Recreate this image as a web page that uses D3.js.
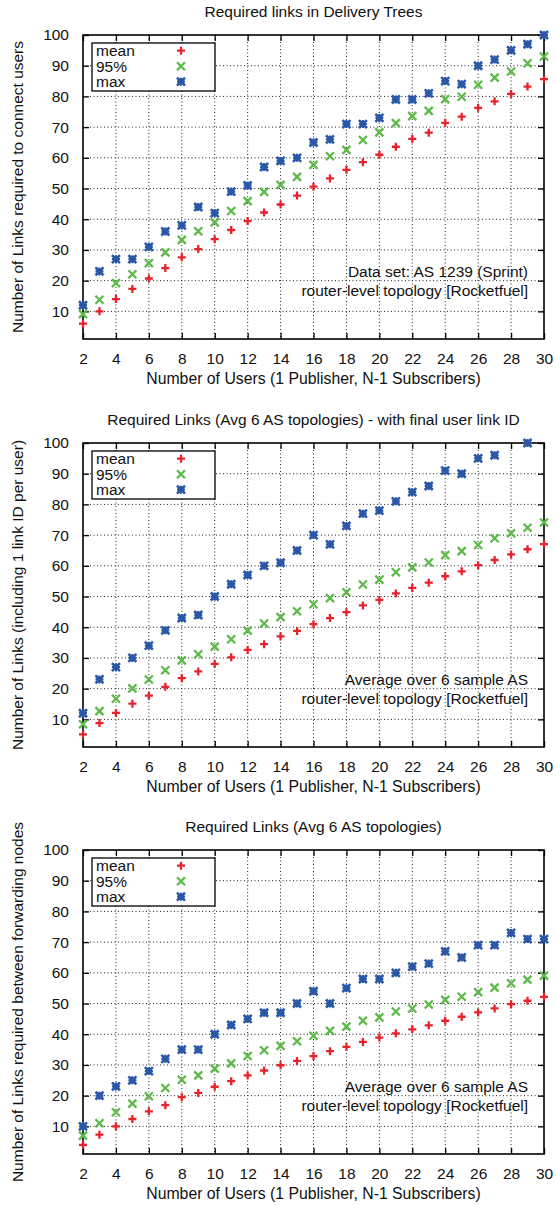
<!DOCTYPE html>
<html>
<head>
<meta charset="utf-8">
<script src="https://cdn.jsdelivr.net/npm/d3@7"></script>
<style>
  body { margin: 0; background: #fff; }
  svg text { font-family: "Liberation Sans", Arial, Helvetica, sans-serif; fill: #111; }
</style>
</head>
<body>
<div id="chart"></div>
<script>
const svgWidth = 556;
const svgHeight = 1205;

// number of users on the x axis
const users = d3.range(2, 31);

const yTicks = [10, 20, 30, 40, 50, 60, 70, 80, 90, 100];
const xTicks = [2, 4, 6, 8, 10, 12, 14, 16, 18, 20, 22, 24, 26, 28, 30];

const seriesNames = ["mean", "95%", "max"];

// panel 1: Delivery Trees, AS 1239
const treeMean = [6, 10, 14, 17.3, 20.7, 24.1, 27.6, 30.3, 33.5, 36.5, 39.4, 42.2, 44.8, 47.7, 50.6,
  53.3, 56.1, 58.6, 61, 63.6, 66.2, 68.2, 71.4, 73.4, 76.3, 78.4, 80.8, 83.2, 85.6];
const tree95 = [9.1, 13.8, 19.2, 22.1, 25.7, 29.2, 33.3, 36.1, 39, 42.7, 45.9, 48.9, 51.2, 53.8, 57.7,
  60.5, 62.6, 65.8, 68.3, 71.3, 73.6, 75.3, 79.1, 79.9, 83.8, 86.1, 88.1, 90.8, 93];
const treeMax = [12, 23, 27, 27, 31, 36, 38, 44, 42, 49, 51, 57, 59, 60, 65,
  66, 71, 71, 73, 79, 79, 81, 85, 84, 90, 92, 95, 97, 100];

// panel 2: with final user link ID
const finalMean = [5.1, 8.8, 12.1, 15.1, 17.7, 20.6, 23.4, 25.6, 28.1, 30.2, 32.6, 34.5, 37, 38.8, 41,
  43, 44.9, 47.1, 48.9, 51, 52.8, 54.5, 56.6, 58.2, 60.2, 61.9, 63.7, 65.4, 67.1];
const final95 = [8.4, 12.7, 16.7, 20.1, 23, 26, 29.2, 31.2, 33.7, 36.1, 38.9, 41.2, 43.3, 45.2, 47.5,
  49.5, 51.4, 53.9, 55.5, 57.9, 59.5, 61.1, 63.5, 64.8, 66.8, 69, 70.6, 72.4, 74.1];
const finalMax = [12, 23, 27, 30, 34, 39, 43, 44, 50, 54, 57, 60, 61, 65, 70,
  67, 73, 77, 78, 81, 84, 86, 91, 90, 95, 96, null, 100, null];

// panel 3: between forwarding nodes
const fwdMean = [4, 7.3, 10, 12.4, 14.9, 16.9, 19.5, 20.9, 22.9, 24.7, 26.6, 28.2, 29.9, 31.3, 32.9,
  34.5, 35.9, 37.5, 38.9, 40.3, 41.6, 42.9, 44.4, 45.7, 47.1, 48.4, 49.8, 50.9, 52.2];
const fwd95 = [7, 11, 14.6, 17.4, 19.8, 22.5, 25.2, 26.6, 28.8, 30.5, 32.9, 34.8, 36.2, 37.7, 39.5,
  41.1, 42.5, 44.4, 45.5, 47.4, 48.4, 49.7, 51.2, 52.2, 53.7, 55.2, 56.6, 57.8, 59.1];
const fwdMax = [10, 20, 23, 25, 28, 32, 35, 35, 40, 43, 45, 47, 47, 50, 54,
  50, 55, 58, 58, 60, 62, 63, 67, 65, 69, 69, 73, 71, 71];

const titles = [
  "Required links in Delivery Trees",
  "Required Links (Avg 6 AS topologies) - with final user link ID",
  "Required Links (Avg 6 AS topologies)"
];
const yLabels = [
  "Number of Links required to connect users",
  "Number of Links (including 1 link ID per user)",
  "Number of Links required between forwarding nodes"
];
const notes = [
  ["Data set: AS 1239 (Sprint)", "router-level topology [Rocketfuel]"],
  ["Average over 6 sample AS", "router-level topology [Rocketfuel]"],
  ["Average over 6 sample AS", "router-level topology [Rocketfuel]"]
];
const xLabel = "Number of Users (1 Publisher, N-1 Subscribers)";

const panelData = [
  [treeMean, tree95, treeMax],
  [finalMean, final95, finalMax],
  [fwdMean, fwd95, fwdMax]
];

const colors = ["#e8222b", "#5db94a", "#2b57a7"];

// plot areas
const plotLeft = 83;
const plotRight = 544;
const plotTops = [35, 443, 850];
const plotHeight = 304;

const svg = d3.select("#chart")
  .append("svg")
  .attr("width", svgWidth)
  .attr("height", svgHeight);

function drawMarker(g, type, color) {
  const s = 4;
  if (type === 0 || type === 2) {
    g.append("path").attr("d", `M${-s},0H${s}M0,${-s}V${s}`)
      .attr("stroke", color).attr("stroke-width", 2.3);
  }
  if (type === 1 || type === 2) {
    g.append("path").attr("d", `M${-s},${-s}L${s},${s}M${-s},${s}L${s},${-s}`)
      .attr("stroke", color).attr("stroke-width", type === 2 ? 2.6 : 2.3);
  }
  if (type === 2) {
    g.append("rect").attr("x", -2.8).attr("y", -2.8).attr("width", 5.6).attr("height", 5.6)
      .attr("fill", color);
  }
}

function drawPanel(i) {
  const top = plotTops[i];
  const bottom = top + plotHeight;
  const x = d3.scaleLinear().domain([2, 30]).range([plotLeft, plotRight]);
  const y = d3.scaleLinear().domain([1, 100]).range([bottom, top]);

  const g = svg.append("g");

  // grid
  g.append("g").selectAll("line")
    .data(xTicks.slice(1, -1))
    .join("line")
    .attr("x1", d => x(d)).attr("x2", d => x(d))
    .attr("y1", top).attr("y2", bottom)
    .attr("stroke", "#222").attr("stroke-width", 1).attr("stroke-dasharray", "1,2.5");
  g.append("g").selectAll("line")
    .data(yTicks.slice(0, -1))
    .join("line")
    .attr("x1", plotLeft).attr("x2", plotRight)
    .attr("y1", d => y(d)).attr("y2", d => y(d))
    .attr("stroke", "#222").attr("stroke-width", 1).attr("stroke-dasharray", "1,2.5");

  // axes with inward ticks on all four sides
  g.append("g").attr("transform", `translate(0,${bottom})`)
    .call(d3.axisBottom(x).tickValues(xTicks).tickSizeInner(-6).tickSizeOuter(0).tickPadding(14))
    .call(a => a.select(".domain").remove());
  g.append("g").attr("transform", `translate(0,${top})`)
    .call(d3.axisTop(x).tickValues(xTicks).tickSizeInner(-6).tickSizeOuter(0).tickFormat(""))
    .call(a => a.select(".domain").remove());
  g.append("g").attr("transform", `translate(${plotLeft},0)`)
    .call(d3.axisLeft(y).tickValues(yTicks).tickSizeInner(-6).tickSizeOuter(0).tickPadding(14))
    .call(a => a.select(".domain").remove());
  g.append("g").attr("transform", `translate(${plotRight},0)`)
    .call(d3.axisRight(y).tickValues(yTicks).tickSizeInner(-6).tickSizeOuter(0).tickFormat(""))
    .call(a => a.select(".domain").remove());
  g.selectAll(".tick line").attr("stroke", "#000").attr("stroke-width", 1.3);
  g.selectAll(".tick text").attr("font-size", 15.5).attr("fill", "#111")
    .attr("font-family", "Liberation Sans, Arial, sans-serif");

  g.append("rect")
    .attr("x", plotLeft).attr("y", top)
    .attr("width", plotRight - plotLeft).attr("height", plotHeight)
    .attr("fill", "none").attr("stroke", "#000").attr("stroke-width", 1.6);

  // notes
  notes[i].forEach((t, k) => {
    g.append("text")
      .attr("x", plotRight - 16)
      .attr("y", bottom - 62 + k * 18.5)
      .attr("text-anchor", "end")
      .attr("font-size", 15.5)
      .text(t);
  });

  // legend
  const lg = g.append("g").attr("transform", `translate(${plotLeft + 9},${top + 8})`);
  lg.append("rect").attr("width", 123).attr("height", 48)
    .attr("fill", "#fff").attr("stroke", "#000").attr("stroke-width", 1.3);
  seriesNames.forEach((name, k) => {
    lg.append("text").attr("x", 4).attr("y", 13 + k * 15.5)
      .attr("font-size", 15.5).text(name);
    drawMarker(lg.append("g").attr("transform", `translate(89,${7.7 + k * 15.5})`), k, colors[k]);
  });

  // points
  panelData[i].forEach((vals, k) => {
    const pts = users.map((u, j) => ({ u: u, v: vals[j] }))
      .filter(d => d.v !== null && d.v >= 1 && d.v <= 100);
    g.append("g").selectAll("g")
      .data(pts)
      .join("g")
      .attr("transform", d => `translate(${x(d.u)},${y(d.v)})`)
      .each(function() { drawMarker(d3.select(this), k, colors[k]); });
  });

  // title and labels
  g.append("text")
    .attr("x", (plotLeft + plotRight) / 2).attr("y", top - 18.5)
    .attr("text-anchor", "middle").attr("font-size", 15.5)
    .text(titles[i]);
  g.append("text")
    .attr("x", (plotLeft + plotRight) / 2).attr("y", bottom + 45)
    .attr("text-anchor", "middle").attr("font-size", 15.8)
    .text(xLabel);
  g.append("text")
    .attr("transform", `translate(23,${(top + bottom) / 2}) rotate(-90)`)
    .attr("text-anchor", "middle").attr("font-size", 15.5)
    .text(yLabels[i]);
}

[0, 1, 2].forEach(drawPanel);
</script>
</body>
</html>
